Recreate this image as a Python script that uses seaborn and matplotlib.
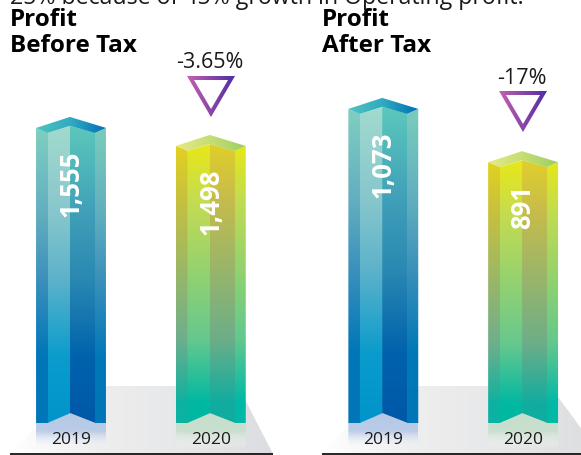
import numpy as np
import pandas as pd
import matplotlib.pyplot as plt
import seaborn as sns
from matplotlib.colors import LinearSegmentedColormap
from matplotlib.patches import Polygon

W, H = 581, 455
BASE = 423

# chart values
years = ['2019', '2020']
before_tax = [1555, 1498]
after_tax = [1073, 891]
before_change = '-3.65%'
after_change = '-17%'
before_title = 'Profit\nBefore Tax'
after_title = 'Profit\nAfter Tax'
intro_text = '25% because of 45% growth in Operating profit.'

# colours for the four faces of each bar, top to bottom
faces_2019 = [
    ['#80d0c0', '#62aec0', '#3b90bc', '#0076b8', '#0076b8'],
    ['#a2dace', '#86c6cc', '#5cb2ca', '#0a9ccc', '#0094ca'],
    ['#5cc8bc', '#3f9fb8', '#2a88b2', '#0062ac', '#0058a8'],
    ['#7ccdbc', '#60aebe', '#3a90ba', '#0078b8', '#0076b6'],
]
faces_2020 = [
    ['#e2d21e', '#c8c040', '#6fae8c', '#0cb2a2', '#0cb2a2'],
    ['#e8e816', '#c6dc50', '#66c88e', '#00b8a2', '#00b8a2'],
    ['#e0cf2a', '#c6bc4c', '#6cae88', '#10aca0', '#10aca0'],
    ['#e8e816', '#c2dc50', '#62c88e', '#00b8a6', '#00b8a6'],
]
stops_2019 = [0, 0.30, 0.52, 0.78, 1]
stops_2020 = [0, 0.20, 0.70, 0.93, 1]
caps = [['#4ec4c0', '#30aac0', '#0070b8'], ['#e8e884', '#c4de74', '#9ed060']]
reflect = ['#b4c8e6', '#c6dfcc']

sns.set_theme(style='white')
plt.rcParams['font.family'] = ['Open Sans', 'DejaVu Sans']

fig = plt.figure(figsize=(W / 100, H / 100), dpi=100)
fig.patch.set_facecolor('white')

# pixel-coordinate layer behind the bars (floor, reflections)
back = fig.add_axes([0, 0, 1, 1], zorder=0)
back.set_xlim(0, W)
back.set_ylim(H, 0)
back.axis('off')


def grad(ax, colors, extent, clip, vertical=True, alphas=None, zorder=2, stops=None):
    if stops is None:
        stops = np.linspace(0, 1, len(colors))
    cmap = LinearSegmentedColormap.from_list('g', list(zip(stops, colors)))
    t = np.linspace(0, 1, 256)
    rgba = cmap(t)
    if alphas is not None:
        rgba[:, 3] = np.interp(t, np.linspace(0, 1, len(alphas)), alphas)
    img = rgba[:, None, :] if vertical else rgba[None, :, :]
    im = ax.imshow(img, extent=extent, aspect='auto', origin='upper',
                   interpolation='bilinear', zorder=zorder)
    patch = Polygon(clip, closed=True, transform=ax.transData, fc='none', ec='none')
    ax.add_patch(patch)
    im.set_clip_path(patch)
    return im


def floor(x_left, x_top_left, x_top_right, x_right):
    pts = [(x_top_left, 386), (x_top_right, 386), (x_right, 454), (x_left, 454)]
    grad(back, ['#ffffff', '#eeeeef', '#e6e7e8', '#dcdde0'],
         (x_left, x_right, 454, 386), pts, vertical=False, zorder=1)
    back.plot([x_left, x_right], [454, 454], color='black', lw=1.2, zorder=2,
              solid_capstyle='butt')


floor(10, 75, 238, 273)
floor(322, 385, 550, 600)


def panel(x0, x1, x_first, values, ymin, ymax, change, title, title_x, tri_x, tri_y, change_y):
    ax = fig.add_axes([x0 / W, (H - BASE) / H, (x1 - x0) / W, BASE / H], zorder=1)
    df = pd.DataFrame({'year': years, 'value': values})
    sns.barplot(data=df, x='year', y='value', width=0.5, color='#3a90ba', ax=ax)
    ax.set_autoscale_on(False)
    step = 139.8
    ax.set_xlim((x0 - x_first) / step, (x1 - x_first) / step)
    ax.set_ylim(ymin, ymax)
    ax.patch.set_alpha(0)
    sns.despine(ax=ax, left=True, bottom=True)
    ax.set_xlabel('')
    ax.set_ylabel('')
    ax.set_yticks([])
    ax.tick_params(axis='x', length=0, pad=6.6, labelsize=12.5, colors='#1a1a1a')
    unit = BASE / (ymax - ymin)

    def dy(py):
        return ymin + (BASE - py) / unit

    overlap = 0.7 / step
    for i, bar in enumerate(ax.patches):
        bar_x = bar.get_x()
        bar_w = bar.get_width()
        top_px = BASE - (bar.get_height() - ymin) * unit
        xs = [bar_x + bar_w * f for f in (0, 0.165, 0.485, 0.84, 1)]
        faces = faces_2019 if i == 0 else faces_2020
        stops = stops_2019 if i == 0 else stops_2020
        inner_l, inner_c = top_px + 5, top_px - 2
        tops = [top_px, inner_l, inner_c, inner_l, top_px]
        bots = [BASE, BASE, BASE - 10, BASE, BASE]
        for k in range(4):
            right = xs[k + 1] + (overlap if k < 3 else 0)
            clip = [(xs[k], dy(tops[k])), (right, dy(tops[k + 1])),
                    (right, dy(bots[k + 1])), (xs[k], dy(bots[k]))]
            grad(ax, faces[k], (xs[k], right, ymin, dy(top_px - 2)), clip, zorder=3 + k * 0.1,
                 stops=stops)
        peak = dy(top_px - 11)
        cap = [(xs[0], dy(top_px)), (xs[2], peak), (xs[4], dy(top_px)),
               (xs[3], dy(inner_l)), (xs[2], dy(inner_c)), (xs[1], dy(inner_l))]
        grad(ax, caps[i], (xs[0], xs[4], dy(top_px + 6), peak), cap, vertical=False, zorder=4)
        bar.set_visible(False)
        ax.text(i, dy(top_px + 23), f'{values[i]:,}', rotation=90, ha='center', va='top',
                color='white', fontsize=18.5, fontweight='bold', zorder=6)

        # reflection under the bar, drawn in the pixel layer
        to_px = lambda v: x_first + v * step
        l, r = to_px(xs[0]), to_px(xs[4])
        mid = to_px(xs[2])
        shape = [(l, BASE), (to_px(xs[1]), BASE), (mid, BASE - 10), (to_px(xs[3]), BASE),
                 (r, BASE), (r, 449), (l, 449)]
        grad(back, [reflect[i], reflect[i], '#ffffff'], (l, r, 449, BASE - 10), shape,
             alphas=[1, 0.9, 0.0], zorder=3)

    # change marker and header
    tri = [(tri_x - 24, tri_y), (tri_x + 24, tri_y), (tri_x, tri_y + 41)]
    grad(back, ['#c463b0', '#8a45a8', '#5030a0'], (tri_x - 24, tri_x + 24, tri_y + 41, tri_y),
         tri, vertical=False, zorder=3)
    inner = [(tri_x - 17, tri_y + 4), (tri_x + 17, tri_y + 4), (tri_x, tri_y + 33)]
    back.add_patch(Polygon(inner, closed=True, fc='white', ec='none', zorder=4))
    back.text(tri_x - 1, change_y, change, ha='center', va='center', fontsize=15.5,
              color='#1a1a1a', zorder=5)
    back.text(title_x, 33, title, ha='left', va='center', fontsize=17.5, fontweight='bold',
              color='black', linespacing=1.07, zorder=5)
    return ax


panel(0, 290, 71, before_tax, 621, 1960, before_change, before_title, 10, 211, 76, 63)
panel(300, 581, 383.3, after_tax, 0, 1445, after_change, after_title, 322, 523, 91, 78)

back.text(10, 3.5, intro_text, ha='left', va='baseline', fontsize=16.7, color='#1a1a1a', zorder=5)

fig.savefig('out.png', dpi=100)
